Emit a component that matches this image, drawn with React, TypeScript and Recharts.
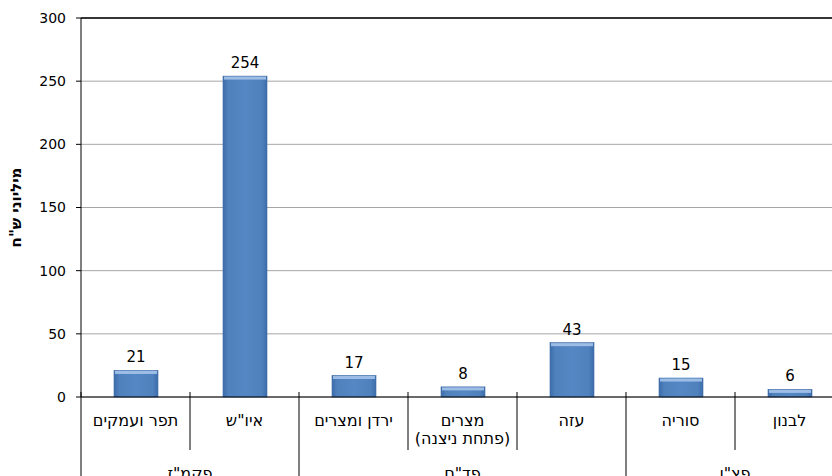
import React from 'react';
import {
  BarChart,
  Bar,
  XAxis,
  YAxis,
  CartesianGrid,
  ReferenceLine,
  LabelList,
} from 'recharts';

const categories = ['תפר ועמקים', 'איו"ש', 'ירדן ומצרים', 'מצרים\n(פתחת ניצנה)', 'עזה', 'סוריה', 'לבנון'];
const budgets = [21, 254, 17, 8, 43, 15, 6];
const commands = ['פקמ"ז', 'פקמ"ז', 'פד"ם', 'פד"ם', 'פד"ם', 'פצ"ן', 'פצ"ן'];
const yTicks = [0, 50, 100, 150, 200, 250, 300];

const data = categories.map((name, i) => ({ name, value: budgets[i], command: commands[i] }));

const FONT = '"DejaVu Sans", Verdana, sans-serif';
const CHART_W = 860;
const CHART_H = 520;
const MARGIN = { top: 18, right: 16, left: 0, bottom: 0 };
const Y_WIDTH = 81;
const PLOT_W = CHART_W - MARGIN.left - MARGIN.right - Y_WIDTH;
const BAND = PLOT_W / categories.length;

// where each command group starts and which slot carries its label
function groupInfo(index: number) {
  const cmd = commands[index];
  const first = commands.indexOf(cmd);
  const last = commands.lastIndexOf(cmd);
  return { isStart: first === index, labelHere: Math.floor((first + last) / 2) === index, span: last - first + 1 };
}

function CategoryTick(props: any) {
  const { x, y, index } = props;
  const lines = String(categories[index]).split('\n');
  const left = x - BAND / 2;
  const g = groupInfo(index);
  // label sits in the middle of the group span
  const labelX = g.span % 2 === 0 ? x + BAND / 2 : x;
  return (
    <g>
      <line
        x1={left}
        x2={left}
        y1={y - 5}
        y2={g.isStart ? y + 140 : y + 53}
        stroke="#000"
        strokeWidth={1}
      />
      {lines.map((ln, i) => (
        <text key={i} x={x} y={y + 29 + i * 18} textAnchor="middle" fontSize={16} fontFamily={FONT} fill="#000">
          {ln}
        </text>
      ))}
      {g.labelHere && (
        <text x={labelX} y={y + 82} textAnchor="middle" fontSize={16} fontFamily={FONT} fill="#000">
          {commands[index]}
        </text>
      )}
    </g>
  );
}

function BevelBar(props: any) {
  const { x, y, width, height } = props;
  if (!height || height <= 0) return null;
  return (
    <g>
      <rect x={x} y={y} width={width} height={height} fill="url(#barFill)" stroke="#3b6aa6" strokeWidth={0.6} />
      <rect x={x + 1} y={y + 0.5} width={width - 2} height={Math.min(3, height - 1)} fill="#a5c3ea" opacity={0.9} />
    </g>
  );
}

function YLabel(props: any) {
  const vb = props.viewBox || { x: 0, y: 0, width: 0, height: 0 };
  const cx = vb.x + 16;
  const cy = vb.y + vb.height / 2;
  return (
    <text
      transform={`translate(${cx},${cy}) rotate(-90)`}
      textAnchor="middle"
      dominantBaseline="central"
      fontSize={15}
      fontWeight="bold"
      fontFamily={FONT}
      fill="#000"
    >
      מיליוני ש"ח
    </text>
  );
}

export default function App() {
  return (
    <div style={{ position: 'absolute', left: 0, top: 0, width: 832, height: 476, overflow: 'hidden', background: '#fff' }}>
      <BarChart width={CHART_W} height={CHART_H} data={data} margin={MARGIN} barCategoryGap={0}>
        <defs>
          <linearGradient id="barFill" x1="0" y1="0" x2="1" y2="0">
            <stop offset="0%" stopColor="#3d6dab" />
            <stop offset="12%" stopColor="#4f81bd" />
            <stop offset="50%" stopColor="#5587c4" />
            <stop offset="88%" stopColor="#4f81bd" />
            <stop offset="100%" stopColor="#3d6dab" />
          </linearGradient>
        </defs>
        <CartesianGrid vertical={false} stroke="#a6a6a6" />
        <XAxis
          dataKey="name"
          interval={0}
          tickLine={false}
          tickSize={0}
          tickMargin={0}
          height={CHART_H - MARGIN.top - 379}
          axisLine={{ stroke: '#000' }}
          tick={(p: any) => <CategoryTick {...p} />}
        />
        <YAxis
          width={Y_WIDTH}
          domain={[0, 300]}
          ticks={yTicks}
          interval={0}
          tickSize={5}
          tickMargin={10}
          axisLine={{ stroke: '#000' }}
          tickLine={{ stroke: '#000' }}
          tick={{ fill: '#000', fontSize: 14, fontFamily: FONT }}
          label={{ content: (p: any) => <YLabel {...p} /> }}
        />
        <ReferenceLine y={300} stroke="#000" strokeWidth={1.5} />
        <Bar dataKey="value" barSize={44} shape={(p: any) => <BevelBar {...p} />} isAnimationActive={false}>
          <LabelList dataKey="value" position="top" offset={8} fill="#000" fontSize={15} fontFamily={FONT} />
        </Bar>
      </BarChart>
    </div>
  );
}
